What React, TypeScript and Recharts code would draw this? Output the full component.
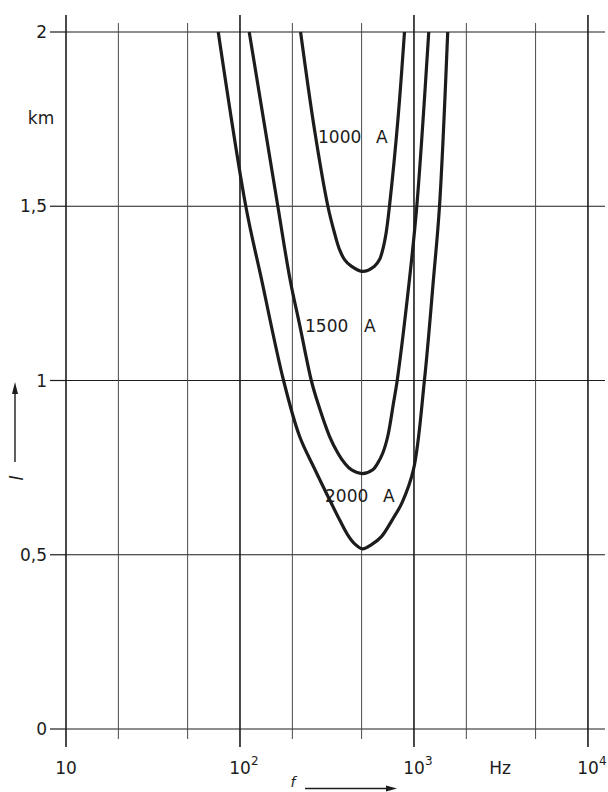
import React from "react";
import { LineChart, Line, XAxis, YAxis, CartesianGrid, ReferenceLine } from "recharts";

// frequency (Hz) and length (km)
const freq1000 = [223, 268, 320, 349, 373, 399, 436, 508, 593, 634, 662, 692, 723, 809, 882];
const len1000 = [2.0, 1.72, 1.5, 1.424, 1.376, 1.347, 1.328, 1.313, 1.328, 1.347, 1.376, 1.424, 1.5, 1.75, 2.0];

const freq1500 = [113, 165, 194, 220, 257, 280, 327, 365, 399, 436, 504, 580, 619, 662, 707, 763, 801, 942, 1038, 1216];
const len1500 = [2.0, 1.5, 1.29, 1.161, 1.0, 0.936, 0.84, 0.792, 0.763, 0.744, 0.733, 0.744, 0.763, 0.792, 0.84, 0.936, 1.0, 1.29, 1.5, 2.0];

const freq2000 = [75, 108, 133, 178, 220, 270, 334, 373, 415, 455, 506, 570, 650, 752, 853, 993, 1148, 1294, 1402, 1563];
const len2000 = [2.0, 1.5, 1.29, 1.0, 0.84, 0.744, 0.649, 0.601, 0.558, 0.532, 0.517, 0.529, 0.552, 0.601, 0.649, 0.744, 1.0, 1.29, 1.5, 2.0];

const xTicks = [10, 20, 50, 100, 200, 500, 1000, 2000, 5000, 10000];
const decades = [10, 100, 1000, 10000];
const yTicks = [0, 0.5, 1, 1.5, 2];

const toRows = (fs: number[], ls: number[]) => fs.map((f, i) => ({ f, l: ls[i] }));
const curve1000 = toRows(freq1000, len1000);
const curve1500 = toRows(freq1500, len1500);
const curve2000 = toRows(freq2000, len2000);

const FONT = "'DejaVu Sans', sans-serif";
const INK = "#1c1c1c";
const GRID = "#4a4a4a";

const exponent: Record<number, string> = { 100: "2", 1000: "3", 10000: "4" };

// centripetal catmull-rom, so the hand-drawn curves pass smoothly through the read points
function smoothCurve(context: any) {
  let pts: number[][] = [];
  return {
    areaStart() {},
    areaEnd() {},
    lineStart() {
      pts = [];
    },
    point(x: number, y: number) {
      pts.push([+x, +y]);
    },
    lineEnd() {
      const n = pts.length;
      if (!n) return;
      context.moveTo(pts[0][0], pts[0][1]);
      for (let i = 0; i < n - 1; i++) {
        const p0 = pts[i - 1] || pts[i];
        const p1 = pts[i];
        const p2 = pts[i + 1];
        const p3 = pts[i + 2] || p2;
        const d01 = Math.hypot(p1[0] - p0[0], p1[1] - p0[1]);
        const d12 = Math.hypot(p2[0] - p1[0], p2[1] - p1[1]);
        const d23 = Math.hypot(p3[0] - p2[0], p3[1] - p2[1]);
        const a01 = Math.sqrt(d01), a12 = Math.sqrt(d12), a23 = Math.sqrt(d23);
        let c1x = p1[0], c1y = p1[1], c2x = p2[0], c2y = p2[1];
        if (a01 > 1e-6) {
          const a = 2 * d01 + 3 * a01 * a12 + d12;
          const m = 3 * a01 * (a01 + a12);
          c1x = (p1[0] * a - p0[0] * d12 + p2[0] * d01) / m;
          c1y = (p1[1] * a - p0[1] * d12 + p2[1] * d01) / m;
        }
        if (a23 > 1e-6) {
          const b = 2 * d23 + 3 * a23 * a12 + d12;
          const m = 3 * a23 * (a23 + a12);
          c2x = (p2[0] * b + p1[0] * d23 - p3[0] * d12) / m;
          c2y = (p2[1] * b + p1[1] * d23 - p3[1] * d12) / m;
        }
        context.bezierCurveTo(c1x, c1y, c2x, c2y, p2[0], p2[1]);
      }
    },
  };
}

function BottomTick(props: any) {
  const { x, y, payload } = props;
  const v = payload.value;
  const major = decades.includes(v);
  return (
    <g>
      <line x1={x} x2={x} y1={y} y2={y + (major ? 18 : 10)} stroke={major ? INK : GRID} strokeWidth={major ? 1.6 : 1} />
      {major && (
        <text x={x} y={y + 45} textAnchor="middle" fontSize={17} fontFamily={FONT} fill={INK}>
          10
        </text>
      )}
      {major && exponent[v] && (
        <text x={x + 11} y={y + 36} fontSize={12} fontFamily={FONT} fill={INK}>
          {exponent[v]}
        </text>
      )}
    </g>
  );
}

function TopTick(props: any) {
  const { x, y, payload } = props;
  const major = decades.includes(payload.value);
  return <line x1={x} x2={x} y1={y} y2={y - (major ? 17 : 9)} stroke={major ? INK : GRID} strokeWidth={major ? 1.6 : 1} />;
}

export default function App() {
  return (
    <div style={{ position: "absolute", left: 0, top: 0, width: 608, height: 792, background: "#fff", overflow: "hidden" }}>
      <LineChart width={608} height={792} margin={{ top: 15, right: 3, left: 0, bottom: 0 }}>
        <CartesianGrid vertical={false} stroke={INK} strokeWidth={1.2} />
        <XAxis
          dataKey="f"
          type="number"
          scale="log"
          domain={[10, 12530]}
          ticks={xTicks}
          allowDataOverflow
          axisLine={false}
          tickLine={false}
          tickSize={0}
          tickMargin={0}
          height={63}
          interval={0}
          tick={<BottomTick />}
        />
        <XAxis
          xAxisId="top"
          orientation="top"
          dataKey="f"
          type="number"
          scale="log"
          domain={[10, 12530]}
          ticks={xTicks}
          allowDataOverflow
          axisLine={false}
          tickLine={false}
          tickSize={0}
          tickMargin={0}
          height={17}
          interval={0}
          tick={<TopTick />}
        />
        <YAxis
          type="number"
          domain={[0, 2]}
          ticks={yTicks}
          width={66}
          axisLine={false}
          tickSize={16}
          tickMargin={3}
          tickLine={{ stroke: INK, strokeWidth: 1.2 }}
          tick={{ fontSize: 17, fontFamily: FONT, fill: INK }}
          tickFormatter={(v) => String(v).replace(".", ",")}
        />
        {xTicks.map((v) => (
          <ReferenceLine
            key={v}
            x={v}
            stroke={decades.includes(v) ? INK : GRID}
            strokeWidth={decades.includes(v) ? 1.6 : 1}
          />
        ))}
        <Line data={curve1000} dataKey="l" type={smoothCurve as any} stroke={INK} strokeWidth={3.2} dot={false} isAnimationActive={false} />
        <Line data={curve1500} dataKey="l" type={smoothCurve as any} stroke={INK} strokeWidth={3.2} dot={false} isAnimationActive={false} />
        <Line data={curve2000} dataKey="l" type={smoothCurve as any} stroke={INK} strokeWidth={3.2} dot={false} isAnimationActive={false} />
      </LineChart>
      <svg width={608} height={792} style={{ position: "absolute", left: 0, top: 0, pointerEvents: "none" }} fontFamily={FONT} fill={INK}>
        <text x={41} y={124} fontSize={17} textAnchor="middle">km</text>
        <text x={318} y={143} fontSize={17}>1000</text>
        <text x={376} y={143} fontSize={17}>A</text>
        <text x={305} y={332} fontSize={17}>1500</text>
        <text x={364} y={332} fontSize={17}>A</text>
        <text x={325} y={502} fontSize={17}>2000</text>
        <text x={383} y={502} fontSize={17}>A</text>
        <text x={500} y={774} fontSize={17} textAnchor="middle">Hz</text>
        <text x={293} y={787} fontSize={14} fontStyle="italic" textAnchor="middle">f</text>
        <line x1={305} x2={390} y1={788.5} y2={788.5} stroke={INK} strokeWidth={1.4} />
        <path d="M397,788.5 L386,785.5 L386,791.5 Z" fill={INK} />
        <line x1={15} x2={15} y1={462} y2={392} stroke={INK} strokeWidth={1.4} />
        <path d="M15,382 L12,394 L18,394 Z" fill={INK} />
        <text x={17} y={478} fontSize={17} fontStyle="italic" textAnchor="middle" dominantBaseline="central" transform="rotate(-90 17 478)">l</text>
      </svg>
    </div>
  );
}
